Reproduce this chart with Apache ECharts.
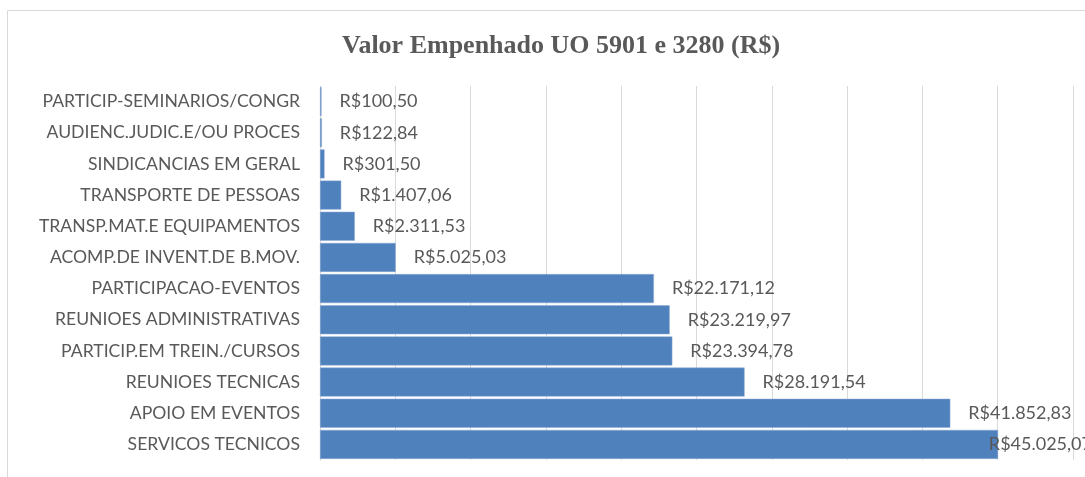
<!DOCTYPE html>
<html>
<head>
<meta charset="utf-8">
<script src="https://cdn.jsdelivr.net/npm/echarts@6/dist/echarts.min.js"></script>
<style>
html,body{margin:0;padding:0;background:#fff;}
#chart{width:1085px;height:477px;}
</style>
</head>
<body>
<div id="chart"></div>
<script>
const titleText = 'Valor Empenhado UO 5901 e 3280 (R$)';
const categories = [
  'PARTICIP-SEMINARIOS/CONGR',
  'AUDIENC.JUDIC.E/OU PROCES',
  'SINDICANCIAS EM GERAL',
  'TRANSPORTE DE PESSOAS',
  'TRANSP.MAT.E EQUIPAMENTOS',
  'ACOMP.DE INVENT.DE B.MOV.',
  'PARTICIPACAO-EVENTOS',
  'REUNIOES ADMINISTRATIVAS',
  'PARTICIP.EM TREIN./CURSOS',
  'REUNIOES TECNICAS',
  'APOIO EM EVENTOS',
  'SERVICOS TECNICOS'
];
const values = [100.50, 122.84, 301.50, 1407.06, 2311.53, 5025.03, 22171.12, 23219.97, 23394.78, 28191.54, 41852.83, 45025.07];
const axisMin = 0, axisMax = 50000, axisInterval = 5000;

function fmtBRL(v) {
  const parts = v.toFixed(2).split('.');
  const intPart = parts[0].replace(/\B(?=(\d{3})+(?!\d))/g, '.');
  return 'R$' + intPart + ',' + parts[1];
}

const chart = echarts.init(document.getElementById('chart'), null, {renderer: 'canvas'});
chart.setOption({
  animation: false,
  backgroundColor: '#ffffff',
  title: {
    text: titleText,
    left: 337,
    top: 28,
    textStyle: {fontFamily: 'Liberation Serif', fontWeight: 'bold', fontSize: 26, color: '#595959'}
  },
  graphic: [{
    type: 'rect',
    shape: {x: 7.5, y: 10.5, width: 1100, height: 500},
    style: {fill: null, stroke: '#d9d9d9', lineWidth: 1},
    silent: true, z: -1
  }],
  grid: {left: 320, right: 12, top: 86, bottom: 17, containLabel: false},
  xAxis: {
    type: 'value', min: axisMin, max: axisMax, interval: axisInterval,
    axisLabel: {show: false}, axisLine: {show: false}, axisTick: {show: false},
    splitLine: {show: true, lineStyle: {color: '#d9d9d9', width: 1}}
  },
  yAxis: {
    type: 'category', data: categories, inverse: true,
    axisLine: {show: true, lineStyle: {color: '#d9d9d9'}},
    axisTick: {show: false},
    axisLabel: {color: '#595959', fontFamily: 'Lato', fontSize: 17.6, margin: 20}
  },
  series: [{
    type: 'bar',
    data: values,
    barCategoryGap: '7%',
    itemStyle: {color: '#4f81bd', borderColor: '#8eaad6', borderWidth: 0.5},
    label: {
      show: true, position: 'right', distance: 18,
      color: '#595959', fontFamily: 'Lato', fontSize: 18,
      formatter: p => fmtBRL(p.value)
    },
    labelLayout: function (p) {
      const maxRight = 1092;
      const r = p.labelRect;
      if (r.x + r.width > maxRight) {
        return {x: maxRight - r.width, y: r.y, align: 'left', verticalAlign: 'top'};
      }
      return {};
    }
  }]
});
</script>
</body>
</html>
